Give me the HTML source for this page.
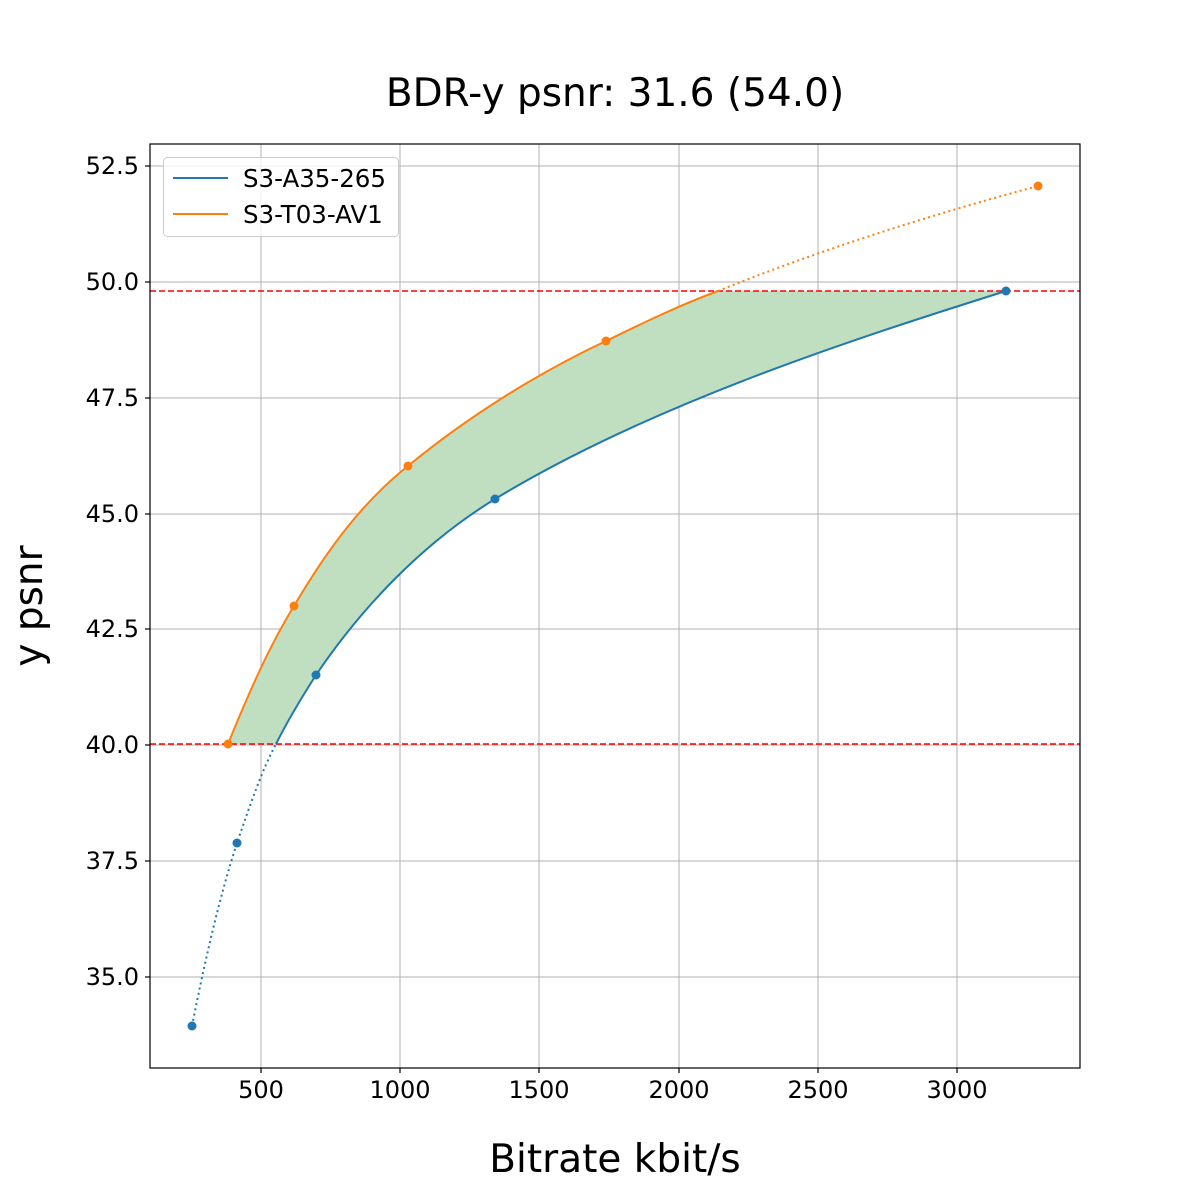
<!DOCTYPE html>
<html><head><meta charset="utf-8"><style>
html,body{margin:0;padding:0;background:#fff;}
svg{display:block;font-family:"DejaVu Sans","Liberation Sans",sans-serif;}
</style></head><body>
<svg width="1200" height="1200" viewBox="0 0 1200 1200" xmlns="http://www.w3.org/2000/svg">
<rect width="1200" height="1200" fill="#fff"/>
<text x="615" y="106" font-size="39" text-anchor="middle">BDR-y psnr: 31.6 (54.0)</text>
<g stroke="#b0b0b0" stroke-width="1">
<line x1="261" y1="144" x2="261" y2="1068"/><line x1="400" y1="144" x2="400" y2="1068"/>
<line x1="539" y1="144" x2="539" y2="1068"/><line x1="679" y1="144" x2="679" y2="1068"/>
<line x1="818" y1="144" x2="818" y2="1068"/><line x1="957" y1="144" x2="957" y2="1068"/>
<line x1="150" y1="166" x2="1080" y2="166"/><line x1="150" y1="282" x2="1080" y2="282"/>
<line x1="150" y1="398" x2="1080" y2="398"/><line x1="150" y1="514" x2="1080" y2="514"/>
<line x1="150" y1="629" x2="1080" y2="629"/><line x1="150" y1="745" x2="1080" y2="745"/>
<line x1="150" y1="861" x2="1080" y2="861"/><line x1="150" y1="977" x2="1080" y2="977"/>
</g>
<path d="M228,744 C250,690 270,645 294,606 C330,545 365,500 408,466 C470,415 540,372 606,341 C645,322 680,305 718,291 L1006,291 C850,340 650,405 495,499 C420,545 360,610 316,675 C300,700 288,720 276,744 Z" fill="#c0dfc0" stroke="none"/>
<line x1="150" y1="291" x2="1080" y2="291" stroke="#ff0000" stroke-width="1.5" stroke-dasharray="6,3"/>
<line x1="150" y1="744" x2="1080" y2="744" stroke="#ff0000" stroke-width="1.5" stroke-dasharray="6,3"/>
<path d="M192,1026 C205,960 220,895 237,843 C250,805 262,770 276,744" fill="none" stroke="#1f77b4" stroke-width="2" stroke-dasharray="2,3.3"/>
<path d="M276,744 C288,720 300,700 316,675 C360,610 420,545 495,499 C650,405 850,340 1006,291" fill="none" stroke="#1f77b4" stroke-width="2"/>
<path d="M718,291 C820,250 930,215 1038,186" fill="none" stroke="#ff7f0e" stroke-width="2" stroke-dasharray="2,3.3"/>
<path d="M228,744 C250,690 270,645 294,606 C330,545 365,500 408,466 C470,415 540,372 606,341 C645,322 680,305 718,291" fill="none" stroke="#ff7f0e" stroke-width="2"/>
<g fill="#1f77b4"><circle cx="192" cy="1026" r="4.5"/><circle cx="237" cy="843" r="4.5"/><circle cx="316" cy="675" r="4.5"/><circle cx="495" cy="499" r="4.5"/><circle cx="1006" cy="291" r="4.5"/></g>
<g fill="#ff7f0e"><circle cx="228" cy="744" r="4.5"/><circle cx="294" cy="606" r="4.5"/><circle cx="408" cy="466" r="4.5"/><circle cx="606" cy="341" r="4.5"/><circle cx="1038" cy="186" r="4.5"/></g>
<rect x="150" y="144" width="930" height="924" fill="none" stroke="#000" stroke-width="1.2"/>
<g stroke="#000" stroke-width="1.2">
<line x1="261" y1="1068" x2="261" y2="1073"/><line x1="400" y1="1068" x2="400" y2="1073"/>
<line x1="539" y1="1068" x2="539" y2="1073"/><line x1="679" y1="1068" x2="679" y2="1073"/>
<line x1="818" y1="1068" x2="818" y2="1073"/><line x1="957" y1="1068" x2="957" y2="1073"/>
<line x1="145" y1="166" x2="150" y2="166"/><line x1="145" y1="282" x2="150" y2="282"/>
<line x1="145" y1="398" x2="150" y2="398"/><line x1="145" y1="514" x2="150" y2="514"/>
<line x1="145" y1="629" x2="150" y2="629"/><line x1="145" y1="745" x2="150" y2="745"/>
<line x1="145" y1="861" x2="150" y2="861"/><line x1="145" y1="977" x2="150" y2="977"/>
</g>
<g font-size="24" text-anchor="middle">
<text x="261" y="1098">500</text><text x="400" y="1098">1000</text><text x="539" y="1098">1500</text>
<text x="679" y="1098">2000</text><text x="818" y="1098">2500</text><text x="957" y="1098">3000</text>
</g>
<g font-size="24" text-anchor="end">
<text x="139" y="174">52.5</text><text x="139" y="290">50.0</text><text x="139" y="406">47.5</text>
<text x="139" y="522">45.0</text><text x="139" y="637">42.5</text><text x="139" y="753">40.0</text>
<text x="139" y="869">37.5</text><text x="139" y="985">35.0</text>
</g>
<text x="615" y="1172" font-size="39" text-anchor="middle">Bitrate kbit/s</text>
<text transform="translate(42,606) rotate(-90)" font-size="39" text-anchor="middle">y psnr</text>
<rect x="163.5" y="157.5" width="235" height="79" rx="4" fill="#fff" fill-opacity="0.8" stroke="#cccccc"/>
<line x1="173" y1="178" x2="228" y2="178" stroke="#1f77b4" stroke-width="2"/>
<line x1="173" y1="214" x2="228" y2="214" stroke="#ff7f0e" stroke-width="2"/>
<text x="243" y="187" font-size="24.5">S3-A35-265</text>
<text x="243" y="223" font-size="24.5">S3-T03-AV1</text>
</svg>
</body></html>
